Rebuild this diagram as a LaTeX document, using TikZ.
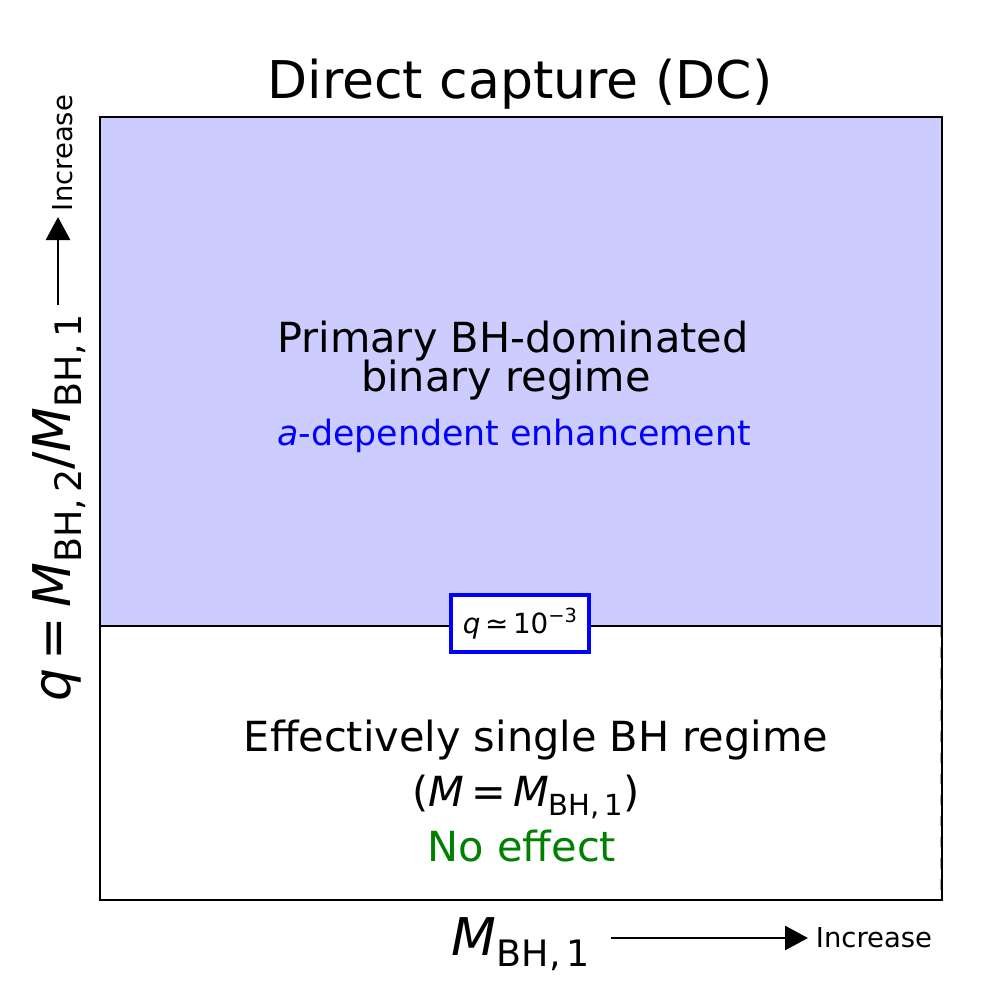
\documentclass[tikz,border=0pt]{standalone}
\usepackage{fontspec}
\setmainfont{DejaVu Sans}
\usetikzlibrary{arrows.meta}
\newcommand\mysub[1]{\raisebox{-0.22em}{\scalebox{0.7}{#1}}}
\newcommand\mysup[1]{\raisebox{0.42em}{\scalebox{0.7}{#1}}}
\definecolor{regionblue}{RGB}{204,204,255}
\definecolor{mplgreen}{RGB}{0,128,0}
\tikzset{
  frame/.style={line width=0.75pt, draw=black},
  bigtxt/.style={font=\fontsize{14.8}{17}\selectfont, inner sep=0pt, anchor=base},
  bodytxt/.style={font=\fontsize{11.8}{14}\selectfont, inner sep=0pt, anchor=base},
  bluetxt/.style={font=\fontsize{9.9}{12}\selectfont, inner sep=0pt, anchor=base, text=blue},
  smalltxt/.style={font=\fontsize{7.8}{9}\selectfont, inner sep=0pt, anchor=base},
  axarrow/.style={line width=0.8pt, -{Triangle[length=2.3mm,width=2.4mm]}},
  qbox/.style={draw=blue, line width=1pt, fill=white, minimum width=13.8mm, minimum height=5.7mm, inner sep=0pt, font=\fontsize{7.9}{9}\selectfont}
}
\begin{document}
\begin{tikzpicture}[x=0.1mm,y=-0.1mm]
\useasboundingbox (0,0) rectangle (1000,1000);
\fill[white] (0,0) rectangle (1000,1000);
% frame corners
\coordinate (tl) at (100,117);
\coordinate (br) at (942,900);
\coordinate (ml) at (100,626);
\coordinate (mr) at (942,626);
% upper region
\fill[regionblue] (tl) rectangle (mr);
% dashed right line of lower region
\draw[black!35, dashed, line width=0.3pt] (940.5,626) -- (940.5,900);
% division line
\draw[frame] (ml) -- (mr);
% frame
\draw[frame] (tl) rectangle (br);
% title
\node[bigtxt] (title) at (520,98) {Direct capture (DC)};
% upper texts
\node[bodytxt] (p1) at (513,352) {Primary BH-dominated};
\node[bodytxt] (p2) at (506,391) {binary regime};
\node[bluetxt] (p3) at (514,445) {\textit{a}-dependent enhancement};
% lower texts
\node[bodytxt] (s1) at (536,751) {Effectively single BH regime};
\node[bodytxt] (s2) at (526,806) {(\textit{M}\,=\,\textit{M}\mysub{BH,\,1})};
\node[bodytxt, text=mplgreen] (s3) at (522,861) {No effect};
% q box
\node[qbox] (qb) at (520,623.5) {\textit{q}\,≃\,10\mysup{−3}};
% x axis label and arrow
\node[bigtxt] (xl) at (521,955) {\textit{M}\mysub{BH,\,1}};
\coordinate (xa0) at (611,938);
\coordinate (xa1) at (808,938);
\draw[axarrow] (xa0) -- (xa1);
\node[smalltxt] (xinc) at (874,947) {Increase};
% y axis label and arrow
\node[bigtxt, rotate=90] (yl) at (70,508) {\textit{q}\,=\,\textit{M}\mysub{BH,\,2}/\textit{M}\mysub{BH,\,1}};
\coordinate (ya0) at (58,305);
\coordinate (ya1) at (58,217);
\draw[axarrow] (ya0) -- (ya1);
\node[smalltxt, rotate=90] (yinc) at (73,153) {Increase};
\end{tikzpicture}
\end{document}
